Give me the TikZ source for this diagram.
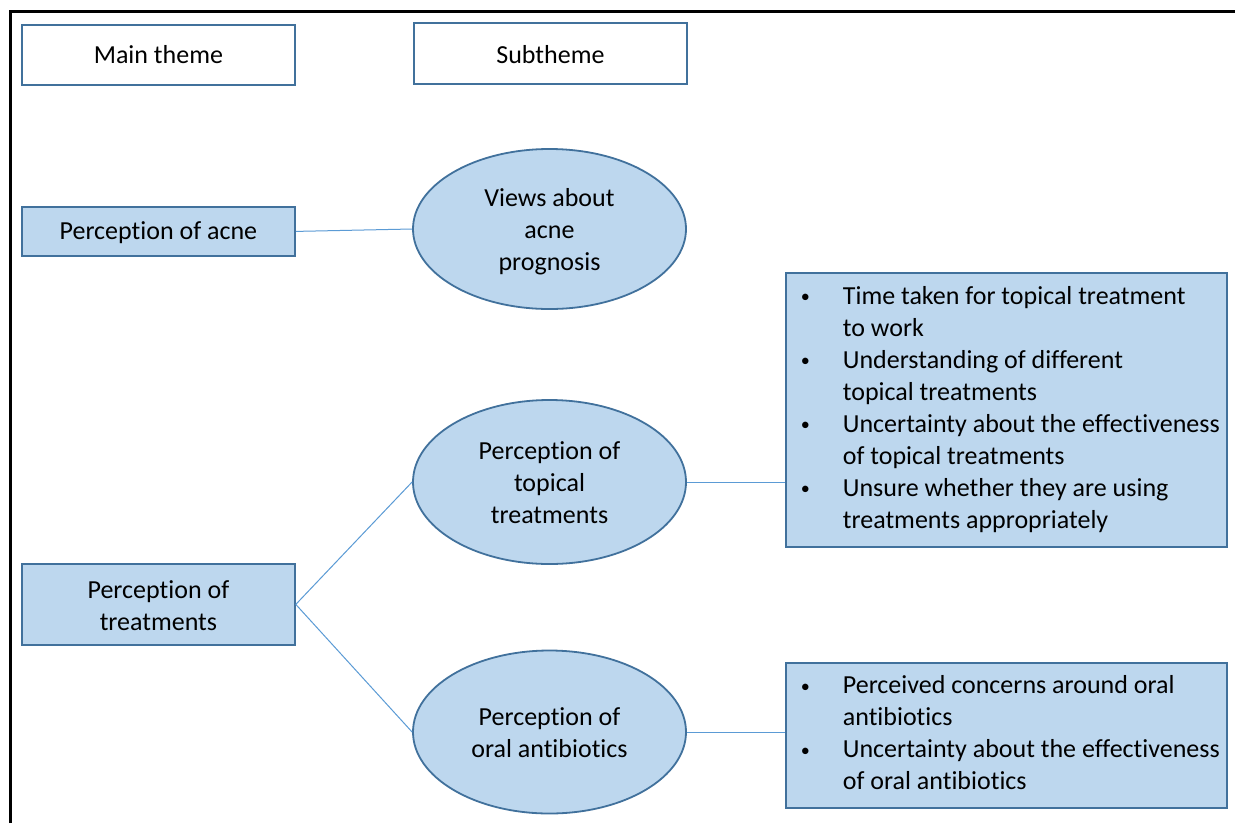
\documentclass[tikz,border=0pt]{standalone}
\usepackage{fontspec}
\setmainfont{Carlito}[Ligatures=NoCommon]
\usetikzlibrary{shapes.geometric}
\definecolor{boxfill}{HTML}{BDD7EE}
\definecolor{boxline}{HTML}{41719C}
\definecolor{connline}{HTML}{5B9BD5}
\tikzset{
  every node/.style={font=\fontsize{26}{32}\selectfont, text=black},
  lowone/.style={execute at begin node=\rule{0pt}{26pt}, execute at end node=\strut},
  headbox/.style={lowone, draw=boxline, line width=1.8pt, fill=white, minimum width=273pt, minimum height=60pt, inner sep=0pt, anchor=north west},
  themebox/.style={draw=boxline, line width=1.8pt, fill=boxfill, minimum width=273pt, inner sep=0pt, anchor=north west, align=center},
  subell/.style={ellipse, draw=boxline, line width=1.8pt, fill=boxfill, minimum width=273pt, inner sep=0pt, align=center},
  listbox/.style={execute at begin node=\strut, execute at end node=\strut, draw=boxline, line width=1.8pt, fill=boxfill, text width=441pt, inner xsep=0pt, align=flush left, anchor=north west},
  conn/.style={draw=connline, line width=1pt},
  frame/.style={draw=black, line width=3pt}
}
\newcommand{\bitem}{\makebox[57pt][l]{\hspace{15pt}\raisebox{1.5pt}{\scalebox{0.7}{•}}}}
\newcommand{\bcont}{\hspace*{57pt}}
\newcommand{\topln}{\rule{0pt}{29.5pt}}
\newcommand{\botln}{\rule[-9.6pt]{0pt}{9.6pt}}
\begin{document}
\begin{tikzpicture}[x=1pt,y=-1pt]
\useasboundingbox (0,0) rectangle (1235,823);
\fill[white] (0,0) rectangle (1235,823);
\draw[frame] (10,823) -- (10,11) -- (1235,11);

\node[headbox] (main) at (21,24) {Main theme};
\node[headbox, minimum height=61pt, execute at begin node=\rule{0pt}{29pt}] (sub) at (413,22) {Subtheme};

\node[themebox, lowone, minimum height=49pt] (acne) at (21,206) {Perception of acne};
\node[themebox, minimum height=81pt] (treat) at (21,563) {\topln Perception of\\treatments\botln};

\node[subell, minimum height=160pt] (views) at (549.5,229) {\topln Views about\\acne\\prognosis\botln};
\node[subell, minimum height=164pt] (topical) at (549.5,482) {\topln Perception of\\topical\\treatments\botln};
\node[subell, minimum height=163pt] (oral) at (549.5,732) {\topln Perception of\\oral antibiotics\botln};

\node[listbox, inner ysep=9pt] (tbox) at (785,272) {%
\bitem Time taken for topical treatment\\
\bcont to work\\
\bitem Understanding of different\\
\bcont topical treatments\\
\bitem Uncertainty about the effectiveness\\
\bcont of topical treatments\\
\bitem Unsure whether they are using\\
\bcont treatments appropriately};

\node[listbox, inner ysep=8.5pt] (obox) at (785,662) {%
\bitem Perceived concerns around oral\\
\bcont antibiotics\\
\bitem Uncertainty about the effectiveness\\
\bcont of oral antibiotics};

\draw[conn] (acne.east) -- (views.west);
\draw[conn] (treat.east) -- (topical.west);
\draw[conn] (treat.east) -- (oral.west);
\draw[conn] (topical.east) -- (topical.east -| tbox.west);
\draw[conn] (oral.east) -- (oral.east -| obox.west);
\end{tikzpicture}
\end{document}
